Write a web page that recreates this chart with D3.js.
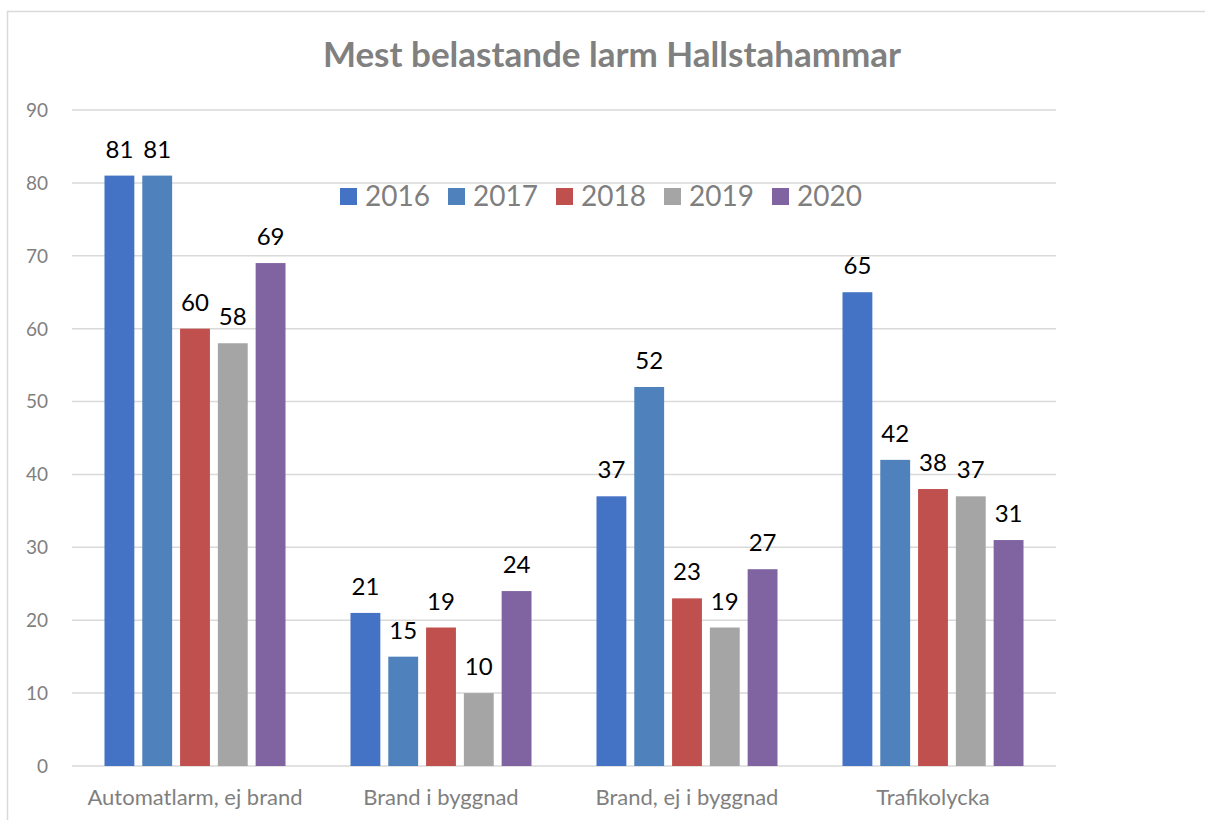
<!DOCTYPE html>
<html>
<head>
<meta charset="utf-8">
<script src="https://cdn.jsdelivr.net/npm/d3@7"></script>
<style>
  body { margin: 0; background: #fff; }
  text { font-family: Lato, "Open Sans", sans-serif; }
</style>
</head>
<body>
<div id="chart"></div>
<script>
var categories = ["Automatlarm, ej brand", "Brand i byggnad", "Brand, ej i byggnad", "Trafikolycka"];
var years = ["2016", "2017", "2018", "2019", "2020"];
var v2016 = [81, 21, 37, 65];
var v2017 = [81, 15, 52, 42];
var v2018 = [60, 19, 23, 38];
var v2019 = [58, 10, 19, 37];
var v2020 = [69, 24, 27, 31];
var yTicks = [0, 10, 20, 30, 40, 50, 60, 70, 80, 90];
var colors = ["#4472C4", "#4F81BD", "#C0504D", "#A5A5A5", "#8064A2"];

var series = [v2016, v2017, v2018, v2019, v2020];

var width = 1205, height = 820;
var svg = d3.select("#chart")
            .append("svg")
            .attr("width", width)
            .attr("height", height)

// chart frame (only top and left edges are visible in the crop)
svg.append("rect")
    .attr("x", 7.5).attr("y", 11.5)
    .attr("width", 1230).attr("height", 830)
    .attr("fill", "none")
    .attr("stroke", "#D9D9D9")
    .attr("stroke-width", 1.5)

svg.append("text")
    .attr("x", 612).attr("y", 67)
    .attr("text-anchor", "middle")
    .style("font-size", "35px")
    .style("font-weight", "bold")
    .attr("fill", "#808080")
    .text("Mest belastande larm Hallstahammar")

var x0 = d3.scaleBand().domain(categories).range([72, 1056]);
var x1 = d3.scaleBand().domain(years).range([0, x0.bandwidth()])
            .paddingInner(0.21).paddingOuter(0.86);
var y = d3.scaleLinear().domain([0, 90]).range([766, 110]);
var color = d3.scaleOrdinal().domain(years).range(colors);

// gridlines
svg.append("g")
    .selectAll("line")
    .data(yTicks)
    .enter()
    .append("line")
    .attr("x1", 72).attr("x2", 1056)
    .attr("y1", d => y(d)).attr("y2", d => y(d))
    .attr("stroke", "#D9D9D9")
    .attr("stroke-width", 1.5)

// y labels
svg.append("g")
    .selectAll("text")
    .data(yTicks)
    .enter()
    .append("text")
    .attr("x", 48).attr("y", d => y(d))
    .attr("dy", "0.36em")
    .attr("text-anchor", "end")
    .style("font-size", "19px")
    .attr("fill", "#7F7F7F")
    .text(d => d)

// category labels
svg.append("g")
    .selectAll("text")
    .data(categories)
    .enter()
    .append("text")
    .attr("x", d => x0(d) + x0.bandwidth() / 2)
    .attr("y", 805)
    .attr("text-anchor", "middle")
    .style("font-size", "22px")
    .attr("fill", "#7F7F7F")
    .text(d => d)

var groups = svg.append("g")
    .selectAll("g")
    .data(categories)
    .enter()
    .append("g")
    .attr("transform", d => "translate(" + x0(d) + ",0)")

var cells = groups.selectAll("g")
    .data((c, i) => years.map((yr, j) => ({year: yr, value: series[j][i]})))
    .enter()

cells.append("rect")
    .attr("x", d => x1(d.year))
    .attr("width", x1.bandwidth())
    .attr("y", d => y(d.value))
    .attr("height", d => y(0) - y(d.value))
    .attr("fill", d => color(d.year))

cells.append("text")
    .attr("x", d => x1(d.year) + x1.bandwidth() / 2)
    .attr("y", d => y(d.value) - 18)
    .attr("text-anchor", "middle")
    .style("font-size", "24px")
    .attr("fill", "#000")
    .text(d => d.value)

// legend
var legend = svg.append("g")
    .selectAll("g")
    .data(years)
    .enter()
    .append("g")
    .attr("transform", (d, i) => "translate(" + (340 + i * 108) + ",188)")

legend.append("rect")
    .attr("width", 17).attr("height", 17)
    .attr("fill", d => color(d))

legend.append("text")
    .attr("x", 25).attr("y", 18)
    .style("font-size", "28px")
    .attr("fill", "#7F7F7F")
    .text(d => d)
</script>
</body>
</html>
